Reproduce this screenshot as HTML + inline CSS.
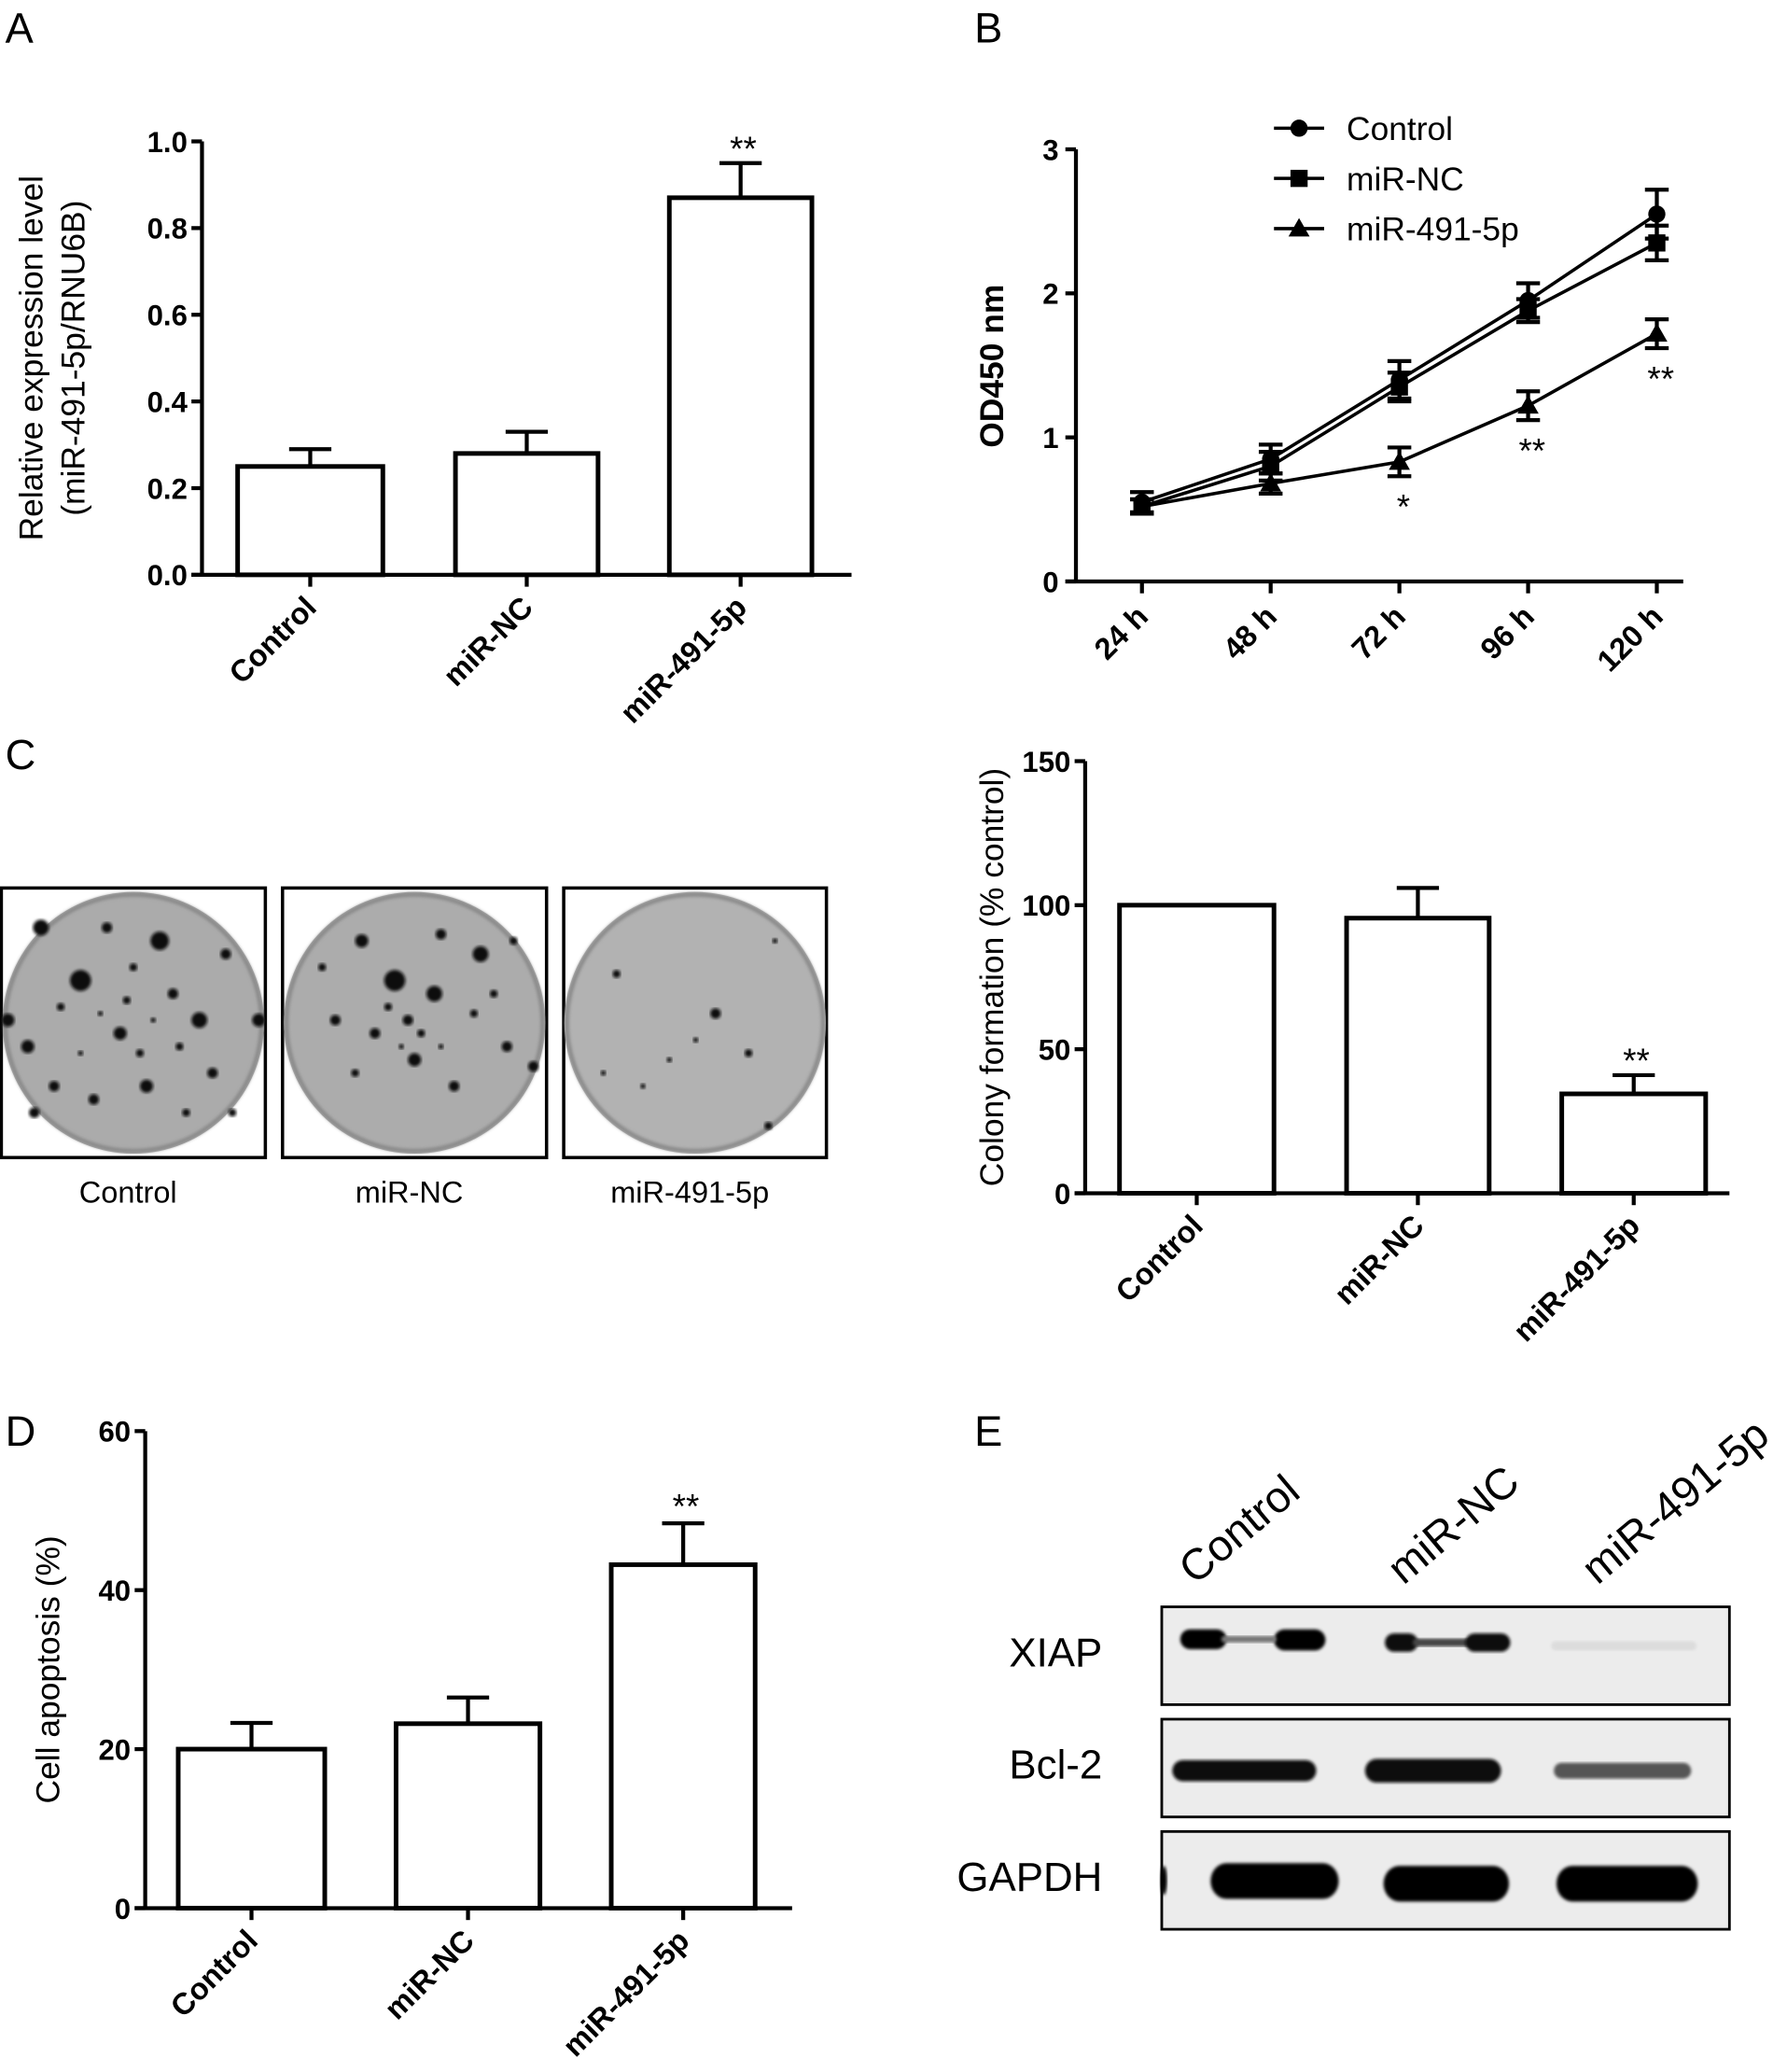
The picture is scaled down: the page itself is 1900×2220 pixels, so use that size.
<!DOCTYPE html>
<html><head><meta charset="utf-8"><style>
html,body{margin:0;padding:0;background:#fff}
svg{display:block}
text{font-family:"Liberation Sans",Arial,sans-serif;fill:#000}
.b{font-weight:bold}
</style></head><body>
<svg id="fig" xmlns="http://www.w3.org/2000/svg" width="1900" height="2220" viewBox="0 0 1343 1568" preserveAspectRatio="none">
<defs>
<filter id="blur2"><feGaussianBlur stdDeviation="2.5"/></filter>
<filter id="blur1"><feGaussianBlur stdDeviation="1.2"/></filter>
</defs>
<rect width="1343" height="1568" fill="#fff"/>
<text x="4" y="32" font-size="32">A</text>
<text x="738" y="32" font-size="32">B</text>
<text x="4" y="582" font-size="32">C</text>
<text x="4" y="1094" font-size="32">D</text>
<text x="738" y="1094" font-size="32">E</text>
<g id="gA"></g>
<g id="gB"></g>
<g id="gC"></g>
<g id="gCb"></g>
<g id="gD"></g>
<g id="gE"></g>
</svg>
<script>
// ---- data ----
const catsBar = ["Control","miR-NC","miR-491-5p"];
const aValues = [0.25,0.28,0.87];
const aErrors = [0.04,0.05,0.08];
const aTicks = [0,0.2,0.4,0.6,0.8,1.0];
const bTimes = ["24 h","48 h","72 h","96 h","120 h"];
const bControl = [0.55,0.85,1.40,1.95,2.55];
const bControlErr = [0.07,0.10,0.13,0.12,0.17];
const bNC = [0.52,0.80,1.35,1.88,2.35];
const bNCErr = [0.05,0.10,0.10,0.08,0.12];
const bMiR = [0.52,0.68,0.83,1.22,1.72];
const bMiRErr = [0.05,0.07,0.10,0.10,0.10];
const bTicks = [0,1,2,3];
const bStars = ["","","*","**","**"];
const cValues = [100,95.5,34.5];
const cErrors = [0,10.5,6.5];
const cTicks = [0,50,100,150];
const dValues = [20,23.2,43.2];
const dErrors = [3.3,3.3,5.2];
const dTicks = [0,20,40,60];
const barStars = ["","","**"];

const NS="http://www.w3.org/2000/svg";
function mk(tag,attrs,parent,txt){const e=document.createElementNS(NS,tag);for(const k in attrs)e.setAttribute(k,attrs[k]);if(txt!==undefined)e.textContent=txt;parent.appendChild(e);return e;}

function barChart(g,opt){
  const {x0,x1,yTop,yBot,max,ticks,vals,errs,bars,title,titleX,tickFmt,starsDy,prefix}=opt;
  const ys=v=>yBot-(v/max)*(yBot-yTop);
  let ax=mk('line',{x1:x0,y1:yTop,x2:x0,y2:yBot,stroke:'#000','stroke-width':3},g);
  
  
  let xa=mk('line',{x1:x0-8,y1:yBot,x2:x1,y2:yBot,stroke:'#000','stroke-width':3},g);
  
  
  ticks.forEach(t=>{
    mk('line',{x1:x0-8,y1:ys(t),x2:x0,y2:ys(t),stroke:'#000','stroke-width':3},g);
    let tl=mk('text',{x:x0-11,y:ys(t)+8,'font-size':22,'text-anchor':'end','class':'b'},g,tickFmt(t));
    
    
  });
  vals.forEach((v,i)=>{
    const [bx0,bx1]=bars[i];const cx=(bx0+bx1)/2;
    if(errs[i]>0){
      mk('line',{x1:cx,y1:ys(v),x2:cx,y2:ys(v+errs[i]),stroke:'#000','stroke-width':3},g);
      mk('line',{x1:cx-16,y1:ys(v+errs[i]),x2:cx+16,y2:ys(v+errs[i]),stroke:'#000','stroke-width':3},g);
    }
    let r=mk('rect',{x:bx0,y:ys(v),width:bx1-bx0,height:yBot-ys(v),fill:'#fff',stroke:'#000','stroke-width':3.5},g);
    
    
    mk('line',{x1:cx,y1:yBot,x2:cx,y2:yBot+9,stroke:'#000','stroke-width':3},g);
    let tl=mk('text',{x:cx+6,y:yBot+26,'font-size':23,'text-anchor':'end','class':'b',transform:`rotate(-45 ${cx+6} ${yBot+26})`},g,catsBar[i]);
    
    
    if(barStars[i]){
      let s=mk('text',{x:cx+2,y:ys(v+errs[i])-starsDy+4,'font-size':26,'text-anchor':'middle'},g,barStars[i]);
      
      
    }
  });
  const ty=(yTop+yBot)/2;
  title.forEach((t,k)=>{
    let tt=mk('text',{x:titleX+k*32,y:ty,'font-size':25,'text-anchor':'middle',transform:`rotate(-90 ${titleX+k*32} ${ty})`},g,t);
    
    
  });
}

barChart(document.getElementById('gA'),{x0:153,x1:645,yTop:107,yBot:435,max:1.0,ticks:aTicks,vals:aValues,errs:aErrors,
 bars:[[180,290],[345,453],[507,615]],title:["Relative expression level","(miR-491-5p/RNU6B)"],titleX:32,tickFmt:t=>t.toFixed(1),starsDy:6,prefix:'a'});
barChart(document.getElementById('gCb'),{x0:822,x1:1310,yTop:576,yBot:903,max:150,ticks:cTicks,vals:cValues,errs:cErrors,
 bars:[[848,965],[1020,1128],[1183,1292]],title:["Colony formation (% control)"],titleX:760,tickFmt:t=>String(t),starsDy:6,prefix:'c'});
barChart(document.getElementById('gD'),{x0:110,x1:600,yTop:1083,yBot:1444,max:60,ticks:dTicks,vals:dValues,errs:dErrors,
 bars:[[135,246],[300,409],[463,572]],title:["Cell apoptosis (%)"],titleX:45,tickFmt:t=>String(t),starsDy:8,prefix:'d'});

// Panel B line chart
(function(){
  const g=document.getElementById('gB');
  const x0=815,x1=1275,yTop=113,yBot=440,max=3;
  const ys=v=>yBot-(v/max)*(yBot-yTop);
  const xs=i=>865+i*97.5;
  let ax=mk('line',{x1:x0,y1:yTop,x2:x0,y2:yBot,stroke:'#000','stroke-width':3},g);
  
  let xa=mk('line',{x1:x0-8,y1:yBot,x2:x1,y2:yBot,stroke:'#000','stroke-width':3},g);
  
  bTicks.forEach(t=>{
    mk('line',{x1:x0-8,y1:ys(t),x2:x0,y2:ys(t),stroke:'#000','stroke-width':3},g);
    let tl=mk('text',{x:x0-13,y:ys(t)+8,'font-size':22,'text-anchor':'end','class':'b'},g,String(t));
    
  });
  bTimes.forEach((t,i)=>{
    mk('line',{x1:xs(i),y1:yBot,x2:xs(i),y2:yBot+9,stroke:'#000','stroke-width':3},g);
    let tl=mk('text',{x:xs(i)+6,y:yBot+28,'font-size':23,'text-anchor':'end','class':'b',transform:`rotate(-45 ${xs(i)+6} ${yBot+28})`},g,t);
    
  });
  const series=[[bControl,bControlErr,'circle','control'],[bNC,bNCErr,'square','mir-nc'],[bMiR,bMiRErr,'triangle','mir-491-5p']];
  function marker(shape,x,y,par){
    if(shape==='circle')return mk('circle',{cx:x,cy:y,r:6.5,fill:'#000'},par);
    if(shape==='square')return mk('rect',{x:x-6.5,y:y-6.5,width:13,height:13,fill:'#000'},par);
    return mk('polygon',{points:`${x},${y-8} ${x-8},${y+6} ${x+8},${y+6}`,fill:'#000'},par);
  }
  series.forEach(([v,e,shape,nm])=>{
    const pts=v.map((d,i)=>xs(i)+','+ys(d)).join(' ');
    let pl=mk('polyline',{points:pts,fill:'none',stroke:'#000','stroke-width':2.5},g);
    
    v.forEach((d,i)=>{
      mk('line',{x1:xs(i),y1:ys(d-e[i]),x2:xs(i),y2:ys(d+e[i]),stroke:'#000','stroke-width':3},g);
      mk('line',{x1:xs(i)-9,y1:ys(d-e[i]),x2:xs(i)+9,y2:ys(d-e[i]),stroke:'#000','stroke-width':3},g);
      mk('line',{x1:xs(i)-9,y1:ys(d+e[i]),x2:xs(i)+9,y2:ys(d+e[i]),stroke:'#000','stroke-width':3},g);
      let m=marker(shape,xs(i),ys(d),g);
      
    });
  });
  bStars.forEach((s,i)=>{
    if(!s)return;
    let t=mk('text',{x:xs(i)+3,y:ys(bMiR[i]-bMiRErr[i])+32,'font-size':26,'text-anchor':'middle'},g,s);
    
  });
  const labels=["Control","miR-NC","miR-491-5p"];
  labels.forEach((l,k)=>{
    const y=97+k*38;
    mk('line',{x1:965,y1:y,x2:1003,y2:y,stroke:'#000','stroke-width':2.5},g);
    marker(series[k][2],984,y,g);
    let t=mk('text',{x:1020,y:y+9,'font-size':25},g,l);
    
  });
  let tt=mk('text',{x:760,y:277,'font-size':25,'text-anchor':'middle','class':'b',transform:'rotate(-90 760 277)'},g,'OD450 nm');
  
})();

// Panel C colony images
(function(){
  const g=document.getElementById('gC');
  const boxes=[[1,201,"Control",[[30,30,6],[60,70,8],[120,40,7],[90,110,5],[20,120,5],[150,100,6],[110,150,5],[70,160,4],[170,50,4],[45,90,3],[130,80,4],[100,60,3],[80,30,4],[160,140,4],[40,150,4],[140,170,3],[5,100,5],[195,100,5],[105,125,3],[95,85,3],[60,125,2],[135,120,3],[75,95,2],[115,100,2],[25,170,4],[175,170,3]],'#ababab'],
               [214,414,"miR-NC",[[85,70,8],[115,80,6],[60,40,5],[150,50,6],[100,130,5],[70,110,4],[130,150,4],[40,100,4],[170,120,4],[95,100,4],[120,35,4],[55,140,3],[145,95,3],[80,90,3],[105,110,3],[90,120,2],[160,80,3],[190,135,4],[30,60,3],[175,40,3],[120,120,2]],'#acacac'],
               [427,626,"miR-491-5p",[[115,95,4],[40,65,3],[140,125,3],[80,130,2],[160,40,2],[60,150,2],[100,115,2],[155,180,3],[30,140,2]],'#b2b2b2']];
  boxes.forEach(([a,b,l,spots,fillc])=>{
    const cx=(a+b)/2,cy=774;
    let r=mk('rect',{x:a,y:672,width:b-a,height:204,fill:'#fff',stroke:'#000','stroke-width':2.5},g);
    
    let c=mk('circle',{cx:cx,cy:cy,r:99,fill:fillc},g);
    
    mk('circle',{cx:cx,cy:cy,r:97,fill:'none',stroke:'#888','stroke-width':3,filter:'url(#blur1)'},g);
    spots.forEach(([sx,sy,sr])=>mk('circle',{cx:a+sx,cy:672+sy,r:sr,fill:'#111',filter:'url(#blur1)'},g));
    let t=mk('text',{x:cx-4,y:910,'font-size':23,'text-anchor':'middle'},g,l);
    
  });
})();

// Panel E western blot
(function(){
  const g=document.getElementById('gE');
  const lanes=[["Control",905,1200],["miR-NC",1063,1200],["miR-491-5p",1210,1200]];
  lanes.forEach(([l,x,y])=>{
    let t=mk('text',{x:x,y:y,'font-size':33,transform:`rotate(-40 ${x} ${y})`},g,l);
    
  });
  const rows=[["XIAP",1216],["Bcl-2",1301],["GAPDH",1386]];
  rows.forEach(([l,y])=>{
    let r=mk('rect',{x:880,y:y,width:430,height:74,fill:'#ececec',stroke:'#000','stroke-width':2},g);
    
    let t=mk('text',{x:835,y:y+45,'font-size':31,'text-anchor':'end'},g,l);
    
  });
  // [x, y, w, h, colour]
  const bands=[
    [894,1233,35,15,'#000'],[965,1233,39,16,'#000'],[925,1238,42,5,'#777'],
    [1049,1236,25,14,'#111'],[1070,1240,50,6,'#444'],[1110,1236,34,14,'#111'],
    [1175,1242,110,7,'#dcdcdc'],
    [888,1332,109,16,'#111'],[1034,1331,103,18,'#0a0a0a'],[1177,1334,104,12,'#555'],
    [879,1412,5,22,'#000'],
    [917,1410,97,27,'#000'],[1048,1412,95,27,'#000'],[1179,1412,107,27,'#000']];
  bands.forEach(([x,y,w,h,f])=>{
    let e=mk('rect',{x:x,y:y,width:w,height:h,rx:Math.min(h/2,12),ry:h/2,fill:f,filter:'url(#blur1)'},g);
    
  });
})();
</script>
</body></html>
